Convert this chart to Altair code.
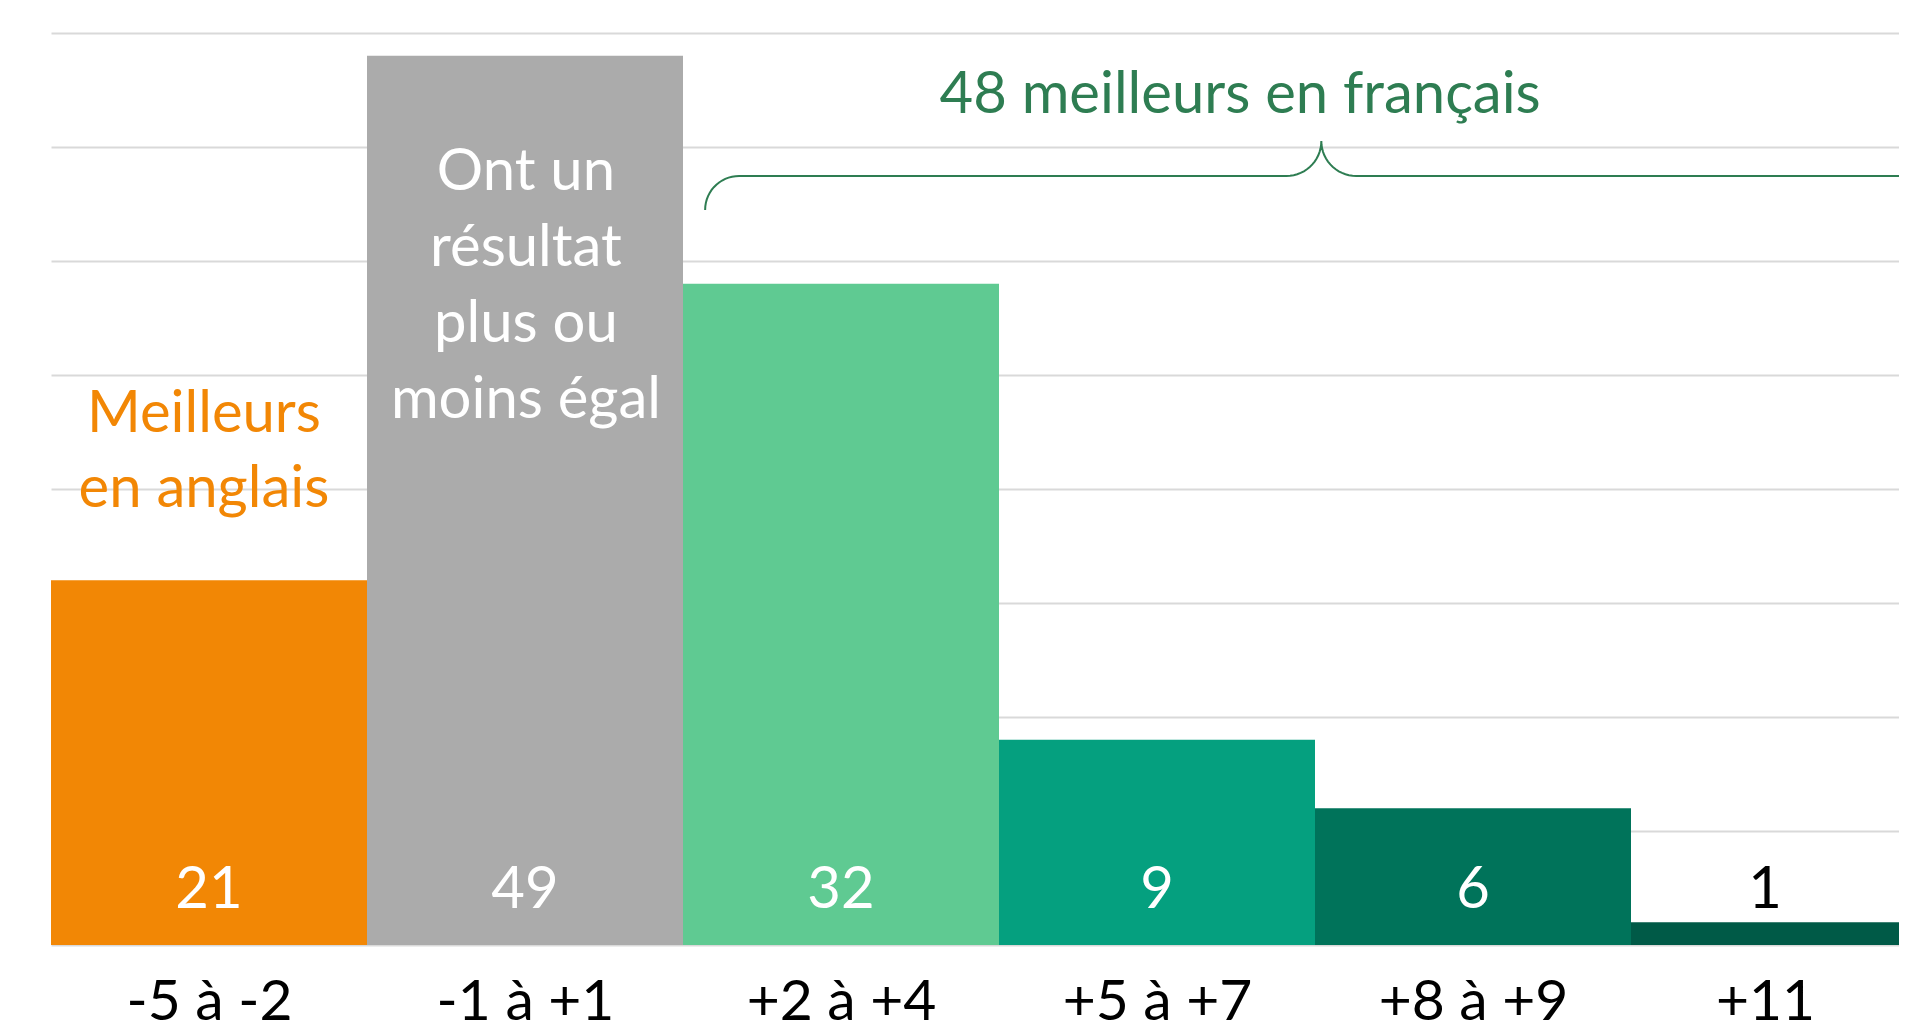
import json
import altair as alt
import numpy as np
import pandas as pd

# ---------------- data ----------------
categories = ["-5 à -2", "-1 à +1", "+2 à +4", "+5 à +7", "+8 à +9", "+11"]
counts = [21, 49, 32, 9, 6, 1]          # printed values
heights = [16, 39, 29, 9, 6, 1]         # bar heights as drawn (grid units)
colors = ["#F28705", "#ABABAB", "#5FCA92", "#05A07F", "#00735A", "#005A47"]

note_left = "Meilleurs\nen anglais"
note_gray = "Ont un\nrésultat\nplus ou\nmoins égal"
note_top = "48 meilleurs en français"

# ---------------- layout ----------------
FONT = "Lato"
PLOT_W, PLOT_H = 1848, 912
BAND_PX = 316
XMAX = PLOT_W / BAND_PX
YMAX = 40
PX_Y = PLOT_H / YMAX
GREEN = "#2E7D52"

n = len(categories)
df = pd.DataFrame({"idx": list(range(n)), "cat": categories,
                   "count": counts, "height": heights})
df["x2"] = df["idx"] + 1
df["xc"] = [(i + min(i + 1, XMAX)) / 2 for i in range(n)]

tick_vals = list(df["xc"])
label_expr = json.dumps(categories, ensure_ascii=False) + "[floor(datum.value)]"

xscale = alt.Scale(domain=[0, XMAX], nice=False, zero=False)
yscale = alt.Scale(domain=[0, YMAX], nice=False)

x_axis = alt.Axis(values=tick_vals, labelExpr=label_expr, title=None,
                  grid=False, ticks=False, tickSize=0, domain=False,
                  labelFont=FONT, labelFontSize=57, labelColor="black",
                  labelPadding=74, labelBaseline="alphabetic", labelLimit=0,
                  labelAngle=0, labelFlush=False, labelOverlap=False)
y_axis = alt.Axis(values=list(range(0, YMAX + 1, 5)), labels=False,
                  ticks=False, domain=False, title=None,
                  gridColor="#D9D9D9", gridWidth=2)

base = alt.Chart(df)

bars = base.mark_bar(clip=True).encode(
    x=alt.X("idx:Q", scale=xscale, axis=x_axis, title=None),
    x2="x2:Q",
    y=alt.Y("height:Q", scale=yscale, axis=y_axis, title=None),
    y2=alt.datum(0),
    color=alt.Color("cat:N", scale=alt.Scale(domain=categories, range=colors),
                    legend=None),
)

values = base.mark_text(font=FONT, fontSize=58, baseline="alphabetic",
                        align="center").encode(
    x=alt.X("xc:Q", scale=xscale, axis=x_axis, title=None),
    y=alt.datum(1.62),
    text="count:Q",
    color=alt.condition("datum.height < 3", alt.value("black"), alt.value("white")),
)

ann_df = pd.DataFrame({"t": [note_left, note_gray, note_top],
                       "x": [0.484, 1.503, 3.763],
                       "y": [22.5, 33.11, 36.49],
                       "c": ["#F28705", "white", GREEN],
                       "lh": [75, 76, 76]})

annotations = []
for i in range(len(ann_df)):
    row = ann_df.iloc[[i]]
    annotations.append(
        alt.Chart(row).mark_text(font=FONT, fontSize=58, baseline="alphabetic",
                                 align="center", lineBreak="\n",
                                 lineHeight=int(row["lh"].iloc[0]),
                                 color=row["c"].iloc[0]).encode(
            x=alt.X("x:Q", scale=xscale, axis=x_axis, title=None),
            y=alt.Y("y:Q", scale=yscale, axis=y_axis, title=None),
            text="t:N",
        )
    )

# ---------------- brace ----------------
BX_START, BX_TIP = 2.07, 4.02
BY_LINE, BY_TIP, BY_END = 33.73, 35.26, 32.24
r_end = (BY_LINE - BY_END) * PX_Y
r_tip = (BY_TIP - BY_LINE) * PX_Y
th = np.linspace(0, np.pi / 2, 16)
cx1 = BX_START + r_end / BAND_PX
lx1 = cx1 - r_end / BAND_PX * np.cos(th)
ly1 = BY_END + r_end / PX_Y * np.sin(th)
cx2 = BX_TIP - r_tip / BAND_PX
lx2 = cx2 + r_tip / BAND_PX * np.sin(th)
ly2 = BY_TIP - r_tip / PX_Y * np.cos(th)
half_x = np.concatenate([lx1, lx2])
half_y = np.concatenate([ly1, ly2])
full_x = np.concatenate([half_x, (2 * BX_TIP - half_x)[::-1]])
full_y = np.concatenate([half_y, half_y[::-1]])
brace_df = pd.DataFrame({"bx": full_x, "by": full_y, "o": np.arange(len(full_x))})

brace = alt.Chart(brace_df).mark_line(clip=True, color=GREEN, strokeWidth=2).encode(
    x=alt.X("bx:Q", scale=xscale, axis=x_axis, title=None),
    y=alt.Y("by:Q", scale=yscale, axis=y_axis, title=None),
    order="o:Q",
)

chart = alt.layer(bars, values, *annotations, brace).properties(
    width=PLOT_W, height=PLOT_H,
    padding={"left": 43, "top": 25, "right": 0, "bottom": 88},
    autosize=alt.AutoSizeParams(type="none"),
    background="white",
).configure_view(stroke=None)

chart.save("out.html", embed_options={"renderer": "svg", "actions": False})
